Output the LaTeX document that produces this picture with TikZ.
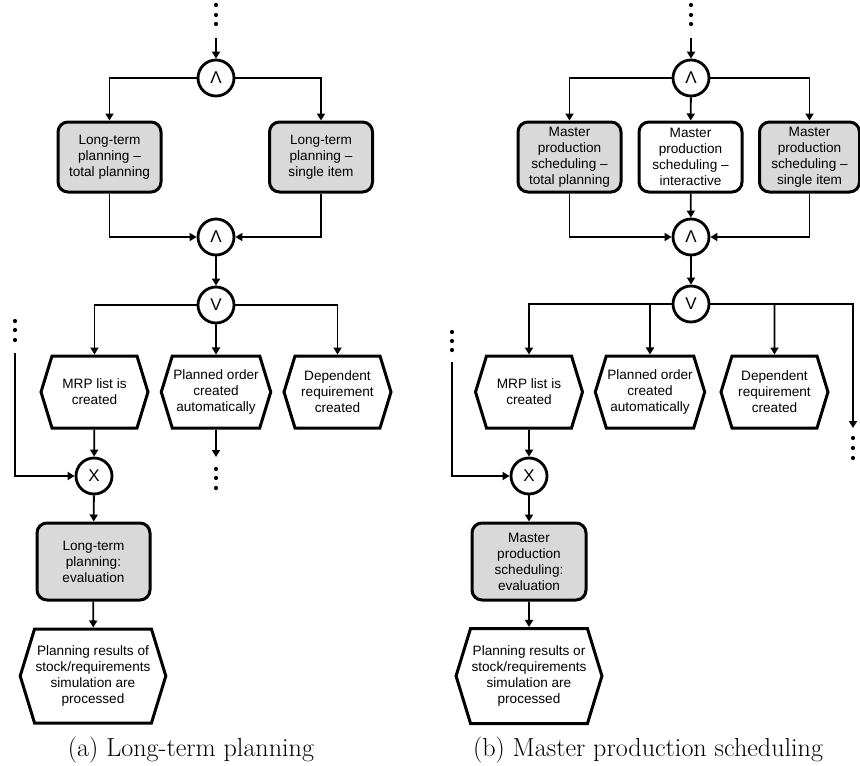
\documentclass[tikz,border=0pt]{standalone}
\usepackage{fontspec}
\newfontfamily\arialfont[Ligatures=TeX]{Liberation Sans}
\usetikzlibrary{arrows.meta,shapes.symbols}

\begin{document}
\begin{tikzpicture}
        [x=1pt,y=-1pt,
         >={Triangle[length=7pt,width=8pt]},
         conn/.style={line width=1.8pt,->},
         func/.style={draw,line width=3pt,rounded corners=10pt,fill=gray!30,
           align=center,inner sep=1pt,font=\arialfont\fontsize{13.6}{16}\selectfont,
           minimum width=#1},
         func/.default=103pt,
         evnt/.style={draw,line width=3pt,signal,signal to=west and east,
           signal pointer angle=146,align=center,inner sep=1pt,
           font=\arialfont\fontsize{13.6}{16}\selectfont},
         gate/.style={draw,circle,line width=2.8pt,minimum size=36pt,inner sep=0pt,
           font=\arialfont\fontsize{17}{20}\selectfont},
         capt/.style={font=\fontsize{26.1}{30}\selectfont}]
        \useasboundingbox (0,0) rectangle (860,766);

        % (a) long-term planning
        \foreach \y in {5,15,24} {\fill (216,\y) circle (2.1);}
        \coordinate (inA) at (216,38);
        \node[gate] (andA1) at (216,78) {Λ};
        \node[func,minimum height=70pt] (ltA) at (109.5,157) {Long-term\\planning --\\total planning};
        \node[func,minimum height=70pt] (ltB) at (321,157) {Long-term\\planning --\\single item};
        \node[gate] (andA2) at (216,237) {Λ};
        \node[gate] (orA) at (216,305) {V};
        \node[evnt,minimum width=107pt,minimum height=72pt] (mrpA) at (94.5,392) {MRP list is\\created};
        \node[evnt,minimum width=107pt,minimum height=72pt] (poA) at (216,392) {Planned order\\created\\automatically};
        \node[evnt,minimum width=107pt,minimum height=72pt] (drA) at (337.5,392) {Dependent\\requirement\\created};
        \coordinate (outA) at (216,457);
        \foreach \y in {469,478,488} {\fill (216,\y) circle (2.1);}
        \foreach \y in {321,330,340} {\fill (15,\y) circle (2.1);}
        \coordinate (inB) at (15,353);
        \node[gate] (xorA) at (94,476) {X};
        \node[func=113pt,minimum height=77pt] (evA) at (93.5,561.5) {Long-term\\planning:\\evaluation};
        \node[evnt,minimum width=140pt,minimum height=94pt] (resA) at (93,676) {Planning results of\\stock/requirements\\simulation are\\processed};
        \node[capt] (captA) at (191,750) {(a) Long-term planning};

        \draw[conn] (inA) -- (andA1);
        \draw[conn] (andA1) -| (ltA);
        \draw[conn] (andA1) -| (ltB);
        \draw[conn] (ltA) |- (andA2);
        \draw[conn] (ltB) |- (andA2);
        \draw[conn] (andA2) -- (orA);
        \draw[conn] (orA) -| (mrpA);
        \draw[conn] (orA) -- (poA);
        \draw[conn] (orA) -| (drA);
        \draw[conn] (poA) -- (outA);
        \draw[conn] (mrpA) -- (xorA);
        \draw[conn] (inB) |- (xorA);
        \draw[conn] (xorA) -- (evA);
        \draw[conn] (evA) -- (resA);

        % (b) master production scheduling
        \foreach \y in {5,15,24} {\fill (691,\y) circle (2.1);}
        \coordinate (inC) at (691,38);
        \node[gate] (andB1) at (691,78) {Λ};
        \node[func,minimum height=70pt] (mpsA) at (569.5,157) {Master\\production\\scheduling --\\total planning};
        \node[func,fill=white,minimum height=70pt] (mpsB) at (690.5,157) {Master\\production\\scheduling --\\interactive};
        \node[func=100pt,minimum height=70pt] (mpsC) at (809.5,157) {Master\\production\\scheduling --\\single item};
        \node[gate] (andB2) at (691,237) {Λ};
        \node[gate] (orB) at (691,304) {V};
        \node[evnt,minimum width=107pt,minimum height=72pt] (mrpB) at (529,392) {MRP list is\\created};
        \node[evnt,minimum width=107pt,minimum height=72pt] (poB) at (650,392) {Planned order\\created\\automatically};
        \node[evnt,minimum width=107pt,minimum height=72pt] (drB) at (774.5,392) {Dependent\\requirement\\created};
        \coordinate (outB) at (853,428);
        \foreach \y in {438,448,458} {\fill (853,\y) circle (2.1);}
        \foreach \y in {332,341,350} {\fill (452,\y) circle (2.1);}
        \coordinate (inD) at (452,362);
        \node[gate] (xorB) at (529,476) {X};
        \node[func=114pt,minimum height=77pt] (evB) at (529,561.5) {Master\\production\\scheduling:\\evaluation};
        \node[evnt,minimum width=142pt,minimum height=95pt] (resB) at (529,676) {Planning results or\\stock/requirements\\simulation are\\processed};
        \node[capt] (captB) at (648,750) {(b) Master production scheduling};

        \draw[conn] (inC) -- (andB1);
        \draw[conn] (andB1) -| (mpsA);
        \draw[conn] (andB1) -- (mpsB);
        \draw[conn] (andB1) -| (mpsC);
        \draw[conn] (mpsA) |- (andB2);
        \draw[conn] (mpsB) -- (andB2);
        \draw[conn] (mpsC) |- (andB2);
        \draw[conn] (andB2) -- (orB);
        \draw[conn] (orB) -| (mrpB);
        \draw[conn] (orB.west -| poB) -- (poB);
        \draw[conn] (orB.east -| drB) -- (drB);
        \draw[conn] (orB) -| (outB);
        \draw[conn] (mrpB) -- (xorB);
        \draw[conn] (inD) |- (xorB);
        \draw[conn] (xorB) -- (evB);
        \draw[conn] (evB) -- (resB);
      \end{tikzpicture}
\end{document}
